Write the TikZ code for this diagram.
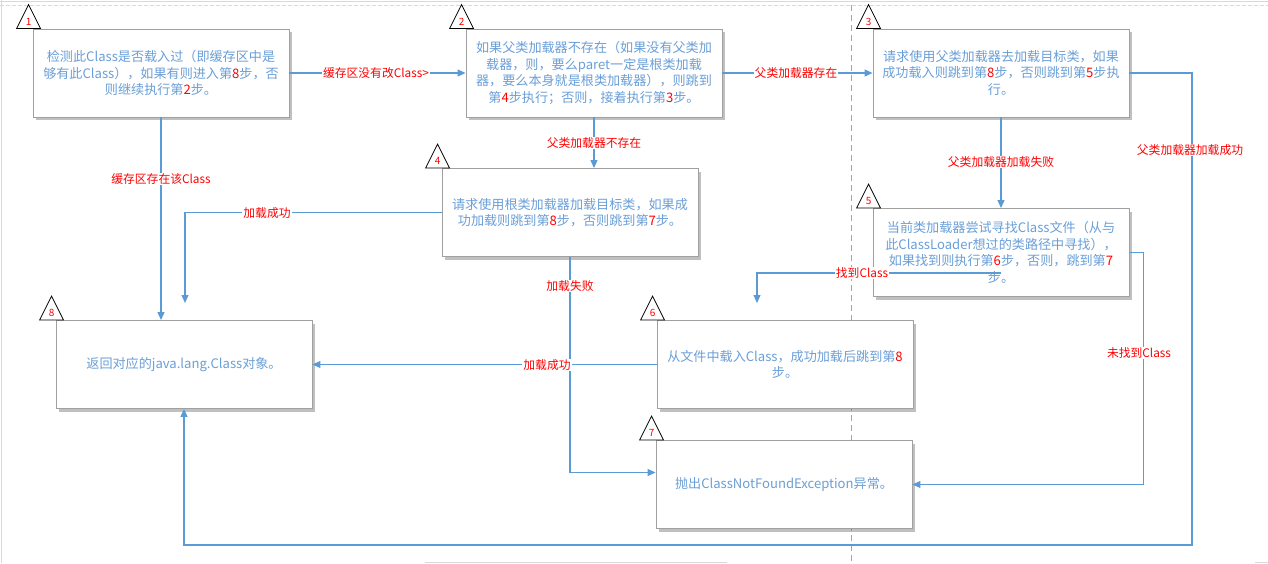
\documentclass[tikz,border=0pt]{standalone}
\usepackage{fontspec}
\setmainfont{Noto Sans CJK SC}
\usetikzlibrary{arrows.meta,shadows,calc}
\definecolor{lineblue}{HTML}{5B9BD5}
\definecolor{txtblue}{HTML}{6A9FD8}
\definecolor{boxgray}{HTML}{A0A0A0}
\definecolor{lblred}{HTML}{FF0000}
\definecolor{framegray}{HTML}{D9D9D9}
\definecolor{dashgray}{HTML}{A6A6A6}
\newcommand\boxfont{\fontsize{13.1}{16.5}\selectfont}
\newcommand\lblfont{\fontsize{11.8}{14}\selectfont}
\newcommand\numfont{\fontsize{10}{12}\selectfont}
\newcommand\rd[1]{\textcolor{lblred}{#1}}
\newcommand\steptri[2]{%
  \draw[tri] ($(#1.north west)+(-16,0)$) -- ($(#1.north west)+(-4,-24)$) -- ($(#1.north west)+(8,0)$) -- cycle;
  \node[trinum] at ($(#1.north west)+(-4,-7)$) {#2};}
\begin{document}
\begin{tikzpicture}[x=1pt,y=-1pt,
  box/.style={draw=boxgray, line width=0.9pt, fill=white, minimum width=256pt, minimum height=88pt,
    inner sep=3pt, align=center, text=txtblue, font=\boxfont,
    drop shadow={shadow xshift=3pt,shadow yshift=-3pt,opacity=0.45,fill=black!55}},
  conn/.style={draw=lineblue, line width=1.1pt, -{Triangle[length=8pt,width=7pt]}},
  plainline/.style={draw=lineblue, line width=1.1pt},
  lbl/.style={fill=white, text=lblred, font=\lblfont, inner sep=1pt},
  tri/.style={draw=black, line width=0.8pt, fill=white},
  trinum/.style={text=lblred, font=\numfont, inner sep=0pt}]
\useasboundingbox (0,0) rectangle (1268,563);
% page frame
\draw[framegray, line width=1pt] (0,1) -- (1268,1);
\draw[framegray, line width=1pt] (1,0) -- (1,563);
\draw[framegray, line width=0.8pt, dash pattern=on 4pt off 2pt] (0,5.5) -- (1268,5.5);
\draw[framegray, line width=1pt] (425,562) -- (727,562);
\draw[framegray, line width=1pt] (1255,562) -- (1268,562);
\draw[dashgray, line width=0.9pt, dash pattern=on 6pt off 4pt] (851,5) -- (851,563);
% boxes
\node[box] (B1) at (161,73) {检测此Class是否载入过（即缓存区中是\\够有此Class），如果有则进入第\rd{8}步，否\\则继续执行第\rd{2}步。};
\node[box] (B2) at (594,73) {如果父类加载器不存在（如果没有父类加\\载器，则，要么paret一定是根类加载\\器，要么本身就是根类加载器），则跳到\\第\rd{4}步执行；否则，接着执行第\rd{3}步。};
\node[box] (B3) at (1001,73) {请求使用父类加载器去加载目标类，如果\\成功载入则跳到第\rd{8}步，否则跳到第\rd{5}步执\\行。};
\node[box] (B4) at (570,212.5) {请求使用根类加载器加载目标类，如果成\\功加载则跳到第\rd{8}步，否则跳到第\rd{7}步。};
\node[box] (B5) at (1001,252.5) {当前类加载器尝试寻找Class文件（从与\\此ClassLoader想过的类路径中寻找），\\如果找到则执行第\rd{6}步，否则，跳到第\rd{7}\\步。};
\node[box] (B6) at (785,364.5) {从文件中载入Class，成功加载后跳到第\rd{8}\\步。};
\node[box] (B7) at (784,484.5) {抛出ClassNotFoundException异常。};
\node[box] (B8) at (184,364.5) {返回对应的java.lang.Class对象。};
% step triangles
\steptri{B1}{1}
\steptri{B2}{2}
\steptri{B3}{3}
\steptri{B4}{4}
\steptri{B5}{5}
\steptri{B6}{6}
\steptri{B7}{7}
\steptri{B8}{8}
% free ends
\coordinate (e6) at (185,303);
\coordinate (s9) at (1001,273);
\coordinate (e9) at (757,303);
% connectors
\draw[conn] (B1.east) -- (B2.west);
\draw[conn] (B2.east) -- (B3.west);
\draw[conn] (B2.south) -- (B2.south |- B4.north);
\draw[conn] (B3.south) -- (B5.north);
\draw[conn] (B1.south) -- (B1.south |- B8.north);
\draw[conn] (B4.west) -| (e6);
\draw[conn] (B4.south) |- ($(B7.west)+(0,-12)$);
\draw[conn] (B6.west) -- (B8.east);
\draw[conn] (s9) -| (e9);
\draw[conn] (B5.east) -- ++(14,0) |- (B7.east);
\draw[conn] (B3.east) -- (1192,73) -- (1192,545) -| (B8.south);
% labels
\node[lbl] at (376,73) {缓存区没有改Class>};
\node[lbl] at (796,73) {父类加载器存在};
\node[lbl] at (594,143) {父类加载器不存在};
\node[lbl] at (1001,162) {父类加载器加载失败};
\node[lbl] at (161,179) {缓存区存在该Class};
\node[lbl] at (267,213) {加载成功};
\node[lbl] at (570,286) {加载失败};
\node[lbl] at (547,365) {加载成功};
\node[lbl] at (862,273) {找到Class};
\node[lbl] at (1139,353) {未找到Class};
\node[lbl] at (1190,150) {父类加载器加载成功};
\end{tikzpicture}
\end{document}
